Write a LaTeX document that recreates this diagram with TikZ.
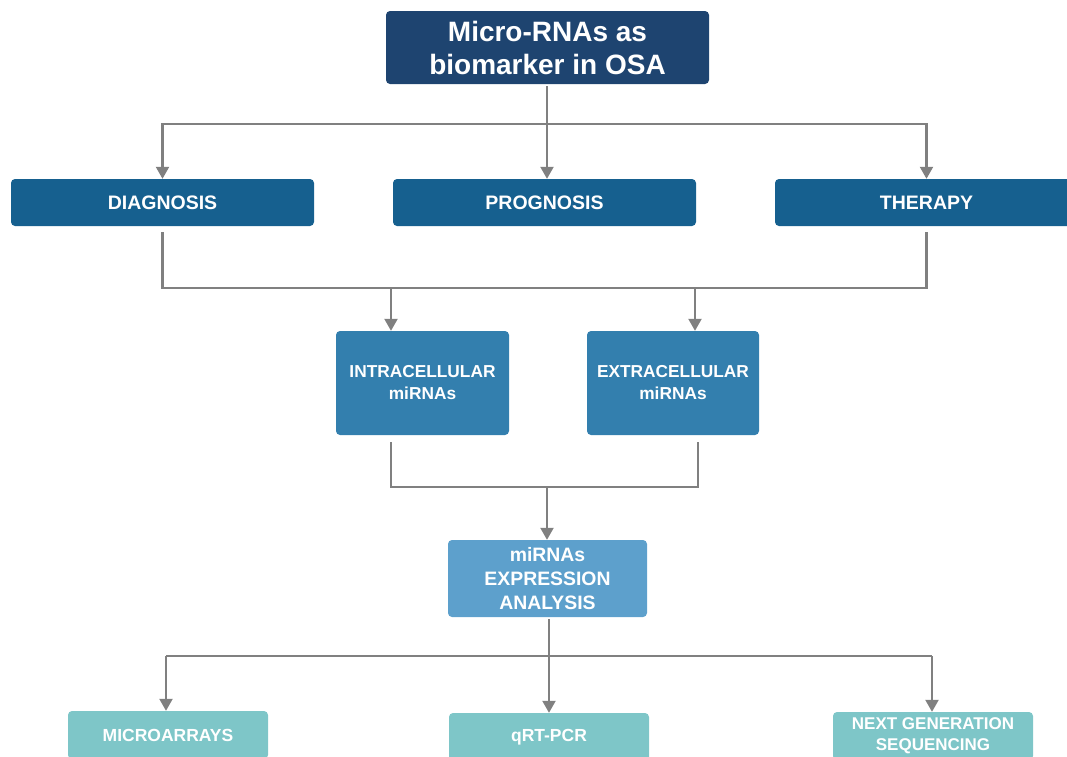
\documentclass[tikz,border=0pt]{standalone}
\usepackage{fontspec}
\setmainfont{Liberation Sans}
\usetikzlibrary{arrows.meta}
\definecolor{cTop}{HTML}{1E4470}
\definecolor{cRow}{HTML}{16608F}
\definecolor{cMid}{HTML}{337FAE}
\definecolor{cExp}{HTML}{5DA0CC}
\definecolor{cBot}{HTML}{7EC6C8}
\definecolor{cLine}{HTML}{808080}
\tikzset{
  box/.style={rounded corners=4pt, inner sep=0pt, align=center, text=white, font=\bfseries},
  conn/.style={draw=cLine, line width=2.2pt},
  arr/.style={conn, -{Triangle[width=13pt,length=12pt]}},
}
\begin{document}
\begin{tikzpicture}[x=1pt,y=1pt]
\useasboundingbox (0,0) rectangle (1067,-756);
\node[box, fill=cTop, minimum width=323pt, minimum height=73pt, font=\bfseries\fontsize{28}{33}\selectfont] (top) at (547.5,-47.5) {Micro-RNAs as\\biomarker in OSA};
\node[box, fill=cRow, minimum width=303pt, minimum height=47pt, font=\bfseries\fontsize{19.5}{22}\selectfont] (diag) at (162.5,-202.5) {DIAGNOSIS};
\node[box, fill=cRow, minimum width=303pt, minimum height=47pt, font=\bfseries\fontsize{19.5}{22}\selectfont] (prog) at (544.5,-202.5) {PROGNOSIS};
\node[box, fill=cRow, minimum width=303pt, minimum height=47pt, font=\bfseries\fontsize{19.5}{22}\selectfont] (ther) at (926.5,-202.5) {THERAPY};
\node[box, fill=cMid, minimum width=173pt, minimum height=104pt, font=\bfseries\fontsize{17.3}{22}\selectfont] (intra) at (422.5,-383) {INTRACELLULAR\\miRNAs};
\node[box, fill=cMid, minimum width=172pt, minimum height=104pt, font=\bfseries\fontsize{17.3}{22}\selectfont] (extra) at (673,-383) {EXTRACELLULAR\\miRNAs};
\node[box, fill=cExp, minimum width=199pt, minimum height=77pt, font=\bfseries\fontsize{19.4}{24}\selectfont] (expr) at (547.5,-578.5) {miRNAs\\EXPRESSION\\ANALYSIS};
\node[box, fill=cBot, minimum width=200pt, minimum height=48pt, font=\bfseries\fontsize{17.5}{21}\selectfont] (micro) at (168,-735) {MICROARRAYS};
\node[box, fill=cBot, minimum width=200pt, minimum height=48pt, font=\bfseries\fontsize{17.5}{21}\selectfont] (qrt) at (549,-737) {qRT-PCR};
\node[box, fill=cBot, minimum width=200pt, minimum height=48pt, font=\bfseries\fontsize{17}{21}\selectfont] (ngs) at (933,-736) {NEXT GENERATION\\SEQUENCING};
% level 1
\coordinate (j1) at (547,-124);
\draw[conn, shorten <=2pt] (top.south -| j1) -- (j1);
\draw[arr] (j1) -| (diag.north);
\draw[arr] (j1) -- (j1 |- prog.north);
\draw[arr] (j1) -| (ther.north);
% level 2
\coordinate (j2) at (0,-288);
\coordinate (ia) at (391,-288);
\coordinate (ea) at (695,-288);
\draw[conn, shorten <=6pt, shorten >=6pt] (diag.south) -- (diag.south |- j2) -- (ther.south |- j2) -- (ther.south);
\draw[arr] (ia) -- (ia |- intra.north);
\draw[arr] (ea) -- (ea |- extra.north);
% level 3
\coordinate (ib) at (391,-487);
\coordinate (eb) at (698,-487);
\coordinate (j3) at (547,-487);
\draw[conn, shorten <=7pt, shorten >=7pt] (ib |- intra.south) -- (ib) -- (eb) -- (eb |- extra.south);
\draw[arr] (j3) -- (j3 |- expr.north);
% level 4
\coordinate (j4) at (549,-656);
\draw[conn, shorten <=2pt] (j4 |- expr.south) -- (j4);
\coordinate (ma) at (166,-656);
\coordinate (na) at (932,-656);
\draw[conn] (ma) -- (na);
\draw[arr] (ma) -- (ma |- micro.north);
\draw[arr] (j4) -- (j4 |- qrt.north);
\draw[arr] (na) -- (na |- ngs.north);
\end{tikzpicture}
\end{document}
